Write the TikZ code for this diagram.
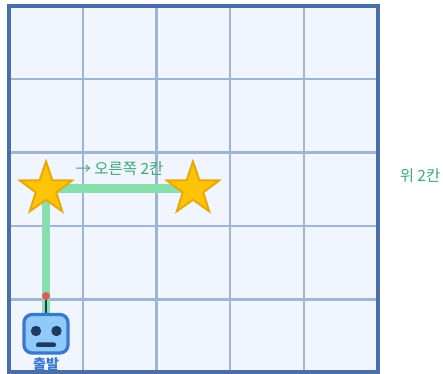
\documentclass[tikz,border=0pt]{standalone}
\usepackage{fontspec}
\setmainfont{Noto Sans CJK KR}
\usetikzlibrary{shapes.geometric}
\definecolor{cellblue}{HTML}{F0F5FF}
\definecolor{gridblue}{HTML}{9DB5D6}
\definecolor{edgeblue}{HTML}{4A6FA8}
\definecolor{pathgreen}{HTML}{88DFAE}
\definecolor{textgreen}{HTML}{3BAA6C}
\definecolor{starfill}{HTML}{FFC407}
\definecolor{staredge}{HTML}{E9A805}
\definecolor{robotblue}{HTML}{90CAFB}
\definecolor{robotedge}{HTML}{3A78D0}
\definecolor{robotdark}{HTML}{1E3A5F}
\definecolor{antennared}{HTML}{E25A4E}
\tikzset{
	starmark/.style={star, star points=5, star point ratio=2.55, minimum size=55*0.02cm, inner sep=0pt, fill=starfill, draw=staredge, line width=0.4mm},
	steplabel/.style={text=textgreen, font=\fontsize{8.8}{10}\selectfont, inner sep=0pt}
}

\begin{document}
\begin{tikzpicture}[x=0.02cm, y=-0.02cm]
		%%%%% START %%%%%
		\useasboundingbox (0, 0) rectangle (443, 374);
		\fill[cellblue] (9, 6) rectangle (378, 372);
		\foreach \gridx in {83, 156.5, 230, 304} {
			\draw[gridblue, line width=0.45mm] (\gridx, 6) -- (\gridx, 372);
		}
		\foreach \gridy in {79, 152.5, 226, 299.5} {
			\draw[gridblue, line width=0.45mm] (9, \gridy) -- (378, \gridy);
		}
		\draw[edgeblue, line width=0.8mm] (9, 6) rectangle (378, 372);
		
		\coordinate (start) at (46, 314);
		\coordinate (corner) at (46, 189);
		\coordinate (goal) at (193, 189);
		\draw[pathgreen, line width=1.8mm] (start) -- (corner) -- (goal);
		
		\node[starmark] (starone) at (corner) {};
		\node[starmark] (startwo) at (goal) {};
		
		\node[steplabel] (rightlabel) at (119.5, 169) {→ 오른쪽 2칸};
		\node[steplabel] (uplabel) at (420, 176) {위 2칸};
		
		\coordinate (antennatip) at (46, 296);
		\draw[robotdark, line width=0.45mm] (antennatip) -- (46, 314);
		\fill[antennared] (antennatip) circle (4);
		
		\draw[fill=robotblue, draw=robotedge, line width=0.65mm, rounded corners=1.6mm] (24, 314.5) rectangle (68, 353);
		\fill[robotdark] (36, 331) circle (5.2);
		\fill[robotdark] (56.5, 331) circle (5.2);
		\fill[robotdark, rounded corners=0.4mm] (36, 342.5) rectangle (56, 347);
		
		\node[text=robotedge, font=\fontsize{8}{9}\selectfont\bfseries, inner sep=0pt] (startlabel) at (46, 364) {출발};
		%%%%% END %%%%%
	\end{tikzpicture}
\end{document}
